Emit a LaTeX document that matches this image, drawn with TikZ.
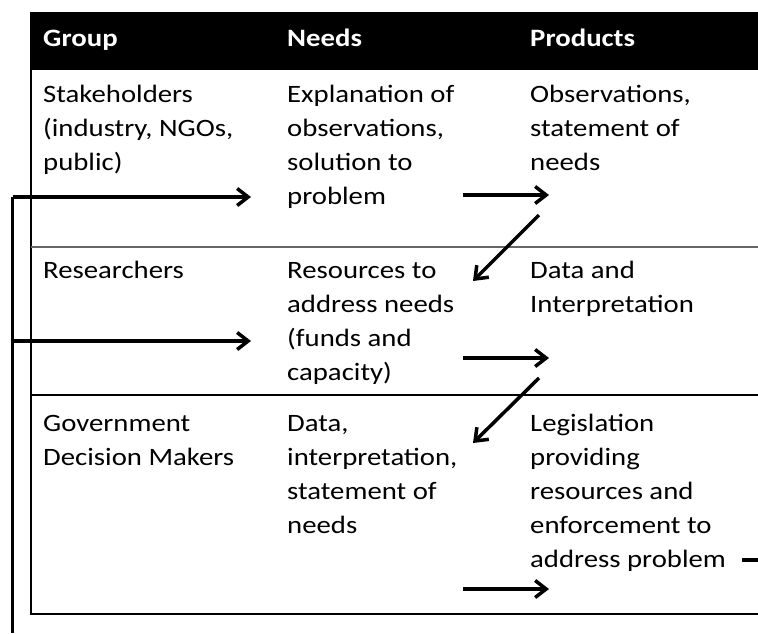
\documentclass[tikz,border=0pt]{standalone}
\usepackage{fontspec}
\setmainfont{Carlito}[FakeStretch=1.15]
\usetikzlibrary{arrows.meta}
\begin{document}
\begin{tikzpicture}[x=1pt, y=-1pt, cell/.style={anchor=base west,
      inner sep=0pt, align=left, font=\fontsize{25}{34}\selectfont},
    head/.style={cell, text=white,
      font=\fontsize{25}{34}\selectfont\bfseries}]
    \useasboundingbox (0,0) rectangle (758,633);
    % table frame
    \fill (31,12) rectangle (758,70); \draw [line width=1.5pt] (31,12)
    -- (31,614) -- (758,614); \draw [line width=1.2pt, black!60]
    (31,247) -- (758,247); \draw [line width=1.2pt] (31,395) --
    (758,395);
    \begin{scope}[every node/.style={head}]
      \node (g) at (43,46) {Group}; \node (n) at (287,46) {Needs};
      \node (p) at (530,46) {Products};
    \end{scope}
    % cells, placed at the baseline of their last line
    \begin{scope}[every node/.style={cell}]
      \node (g1) at (43,170) {Stakeholders\\(industry, NGOs,\\public)};
      \node (n1) at (287,204) {Explanation of\\observations,\\solution
        to\\problem}; \node (p1) at (530,170)
      {Observations,\\statement of\\needs}; \node (g2) at (43,278)
      {Researchers}; \node (n2) at (287,380) {Resources to\\address
        needs\\(funds and\\capacity)}; \node (p2) at (530,312) {Data
        and\\Interpretation}; \node (g3) at (43,465)
      {Government\\Decision Makers}; \node (n3) at (287,533)
      {Data,\\interpretation,\\statement of\\needs}; \node (p3) at
      (530,567) {Legislation\\providing\\resources and\\enforcement
        to\\address problem};
    \end{scope}
    % arrow ends
    \coordinate (b0) at (12.5,633); \coordinate (b1) at (12.5,197);
    \coordinate (b2) at (12.5,341); \coordinate (t1) at (251,197);
    \coordinate (t2) at (251,341); \coordinate (a1) at (463,195);
    \coordinate (c1) at (549,195); \coordinate (d1) at (539,215);
    \coordinate (e1) at (473,281); \coordinate (a2) at (463,358);
    \coordinate (c2) at (549,358); \coordinate (d2) at (539,378);
    \coordinate (e2) at (473,443); \coordinate (a3) at (463,589);
    \coordinate (c3) at (549,589); \coordinate (f0) at (742,560);
    \coordinate (f1) at (758,560);
    \begin{scope}[-{Straight Barb[length=11pt,width=17pt]}, line
      width=3.5pt]
      \draw [-] (b0) -- (b1); \draw (b1) -- (t1); \draw (b2) -- (t2);
      \draw (a1) -- (c1); \draw (d1) -- (e1); \draw (a2) -- (c2);
      \draw (d2) -- (e2); \draw (a3) -- (c3); \draw [-] (f0) -- (f1);
    \end{scope}
  \end{tikzpicture}
\end{document}
